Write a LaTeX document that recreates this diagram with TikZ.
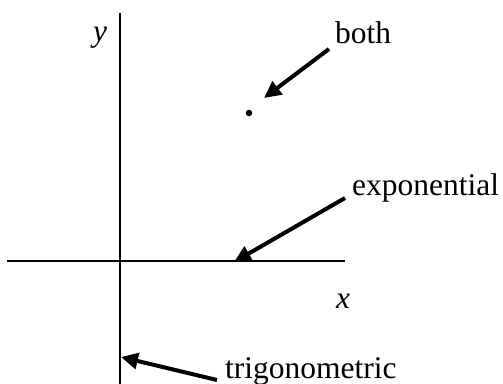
\documentclass[tikz,border=0pt]{standalone}
\usepackage{fontspec}
\setmainfont{Liberation Serif}
\usetikzlibrary{arrows.meta}
\tikzset{
  axis/.style={line width=2bp, black},
  pointer/.style={line width=4bp, -{Triangle[length=17bp,width=16bp]}, shorten >=0pt},
  lbl/.style={anchor=base west, inner sep=0pt, font=\fontsize{31.5bp}{37bp}\selectfont},
}
\begin{document}
\begin{tikzpicture}[x=1bp,y=-1bp]
\useasboundingbox (0,0) rectangle (503,383);
% axes
\coordinate (yt) at (120,13);
\coordinate (yb) at (120,385);
\coordinate (xl) at (7,261);
\coordinate (xr) at (345,261);
\draw[axis] (yt) -- (yb);
\draw[axis] (xl) -- (xr);
% axis labels
\node[lbl] (ylab) at (93,41) {\itshape y};
\node[lbl] (xlab) at (336,308) {\itshape x};
% point
\node[circle, fill=black, inner sep=0pt, minimum size=6.5bp] (pt) at (249,113) {};
% labels
\node[lbl] (both) at (335,43) {both};
\node[lbl] (expo) at (352,195) {exponential};
\node[lbl] (trig) at (225,378) {trigonometric};
% arrow ends
\coordinate (bt) at (329,49);
\coordinate (bh) at (264,98);
\coordinate (et) at (345,198);
\coordinate (eh) at (234,262);
\coordinate (tt) at (217,380);
\coordinate (th) at (121,357);
\draw[pointer] (bt) -- (bh);
\draw[pointer] (et) -- (eh);
\draw[pointer] (tt) -- (th);
\end{tikzpicture}
\end{document}
